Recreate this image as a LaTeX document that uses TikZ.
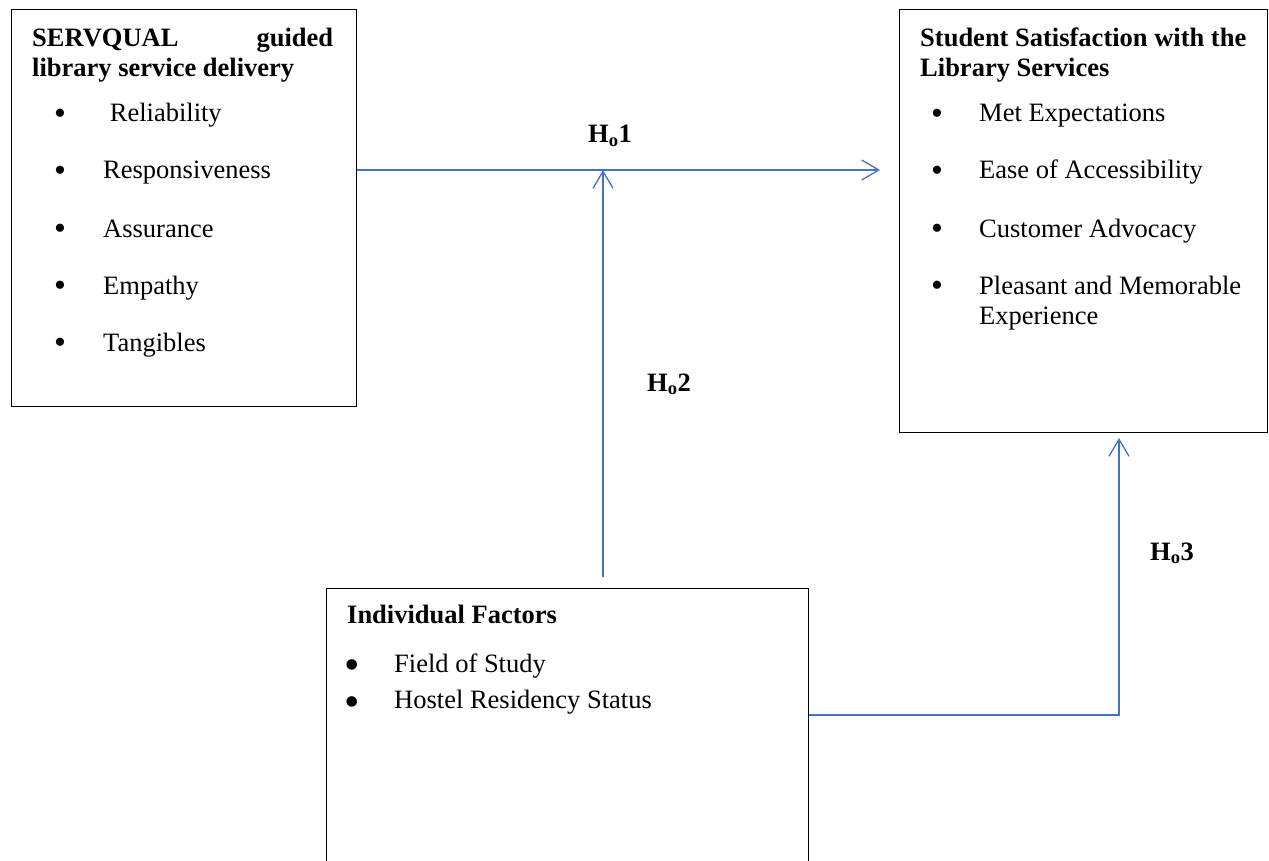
\documentclass[tikz,border=0pt]{standalone}
\usepackage{fontspec}
\setmainfont{Liberation Serif}
\usetikzlibrary{arrows.meta}
\definecolor{wordblue}{HTML}{4472C4}
\begin{document}
\begin{tikzpicture}[x=1pt,y=-1pt,
  box/.style={draw=black, line width=1.4pt, rectangle, anchor=north west, inner sep=0pt},
  conn/.style={draw=wordblue, line width=1.3pt},
  tip/.style={-{Straight Barb[length=17pt,width=20pt,line width=1.3pt]}},
  txt/.style={anchor=base west, inner sep=0pt, font=\fontsize{26.5}{30.5}\selectfont},
  ttl/.style={anchor=base west, inner sep=0pt, font=\fontsize{26.5}{30.5}\selectfont\bfseries},
  bul/.style={anchor=base, inner sep=0pt, font=\fontsize{34}{36}\selectfont},
  bigbul/.style={anchor=base, inner sep=0pt, font=\fontsize{44}{46}\selectfont},
  hyp/.style={anchor=base west, inner sep=0pt, font=\fontsize{26.5}{30.5}\selectfont\bfseries}
]
\useasboundingbox (0,0) rectangle (1269,861);
\clip (0,0) rectangle (1269,861);

% boxes
\node[box, minimum width=345pt, minimum height=397pt] (srv) at (11,9) {};
\node[box, minimum width=368pt, minimum height=423pt] (sat) at (899,9) {};
\node[box, minimum width=482pt, minimum height=320pt] (ind) at (326,588) {};

% SERVQUAL box
\node[ttl] (srvT1) at (32,46.5) {\hbox to 301pt{SERVQUAL\hfill guided}};
\node[ttl] (srvT2) at (32,77) {library service delivery};
\node[bul] (sb1) at (60,124.6) {•};
\node[txt] (st1) at (103,122) {\ Reliability};
\node[bul] (sb2) at (60,181.6) {•};
\node[txt] (st2) at (103,179) {Responsiveness};
\node[bul] (sb3) at (60,239.6) {•};
\node[txt] (st3) at (103,237) {Assurance};
\node[bul] (sb4) at (60,296.6) {•};
\node[txt] (st4) at (103,294) {Empathy};
\node[bul] (sb5) at (60,353.6) {•};
\node[txt] (st5) at (103,351) {Tangibles};

% Satisfaction box
\node[ttl] (satT1) at (920,46.5) {Student Satisfaction with the};
\node[ttl] (satT2) at (920,77) {Library Services};
\node[bul] (ab1) at (937,124.6) {•};
\node[txt] (at1) at (979,122) {Met Expectations};
\node[bul] (ab2) at (937,181.6) {•};
\node[txt] (at2) at (979,179) {Ease of Accessibility};
\node[bul] (ab3) at (937,239.6) {•};
\node[txt] (at3) at (979,237) {Customer Advocacy};
\node[bul] (ab4) at (937,296.6) {•};
\node[txt] (at4) at (979,294) {Pleasant and Memorable};
\node[txt] (at5) at (979,324.5) {Experience};

% Individual factors box
\node[ttl] (indT) at (347,623) {Individual Factors};
\node[bigbul] (ib1) at (352,679) {•};
\node[txt] (it1) at (394,672) {Field of Study};
\node[bigbul] (ib2) at (352,716) {•};
\node[txt] (it2) at (394,708) {Hostel Residency Status};

% connectors
\coordinate (h1end) at (880,170);
\coordinate (h2start) at (603,577);
\coordinate (h3turn) at (1119,715);
\coordinate (h3end) at (1119,438);
\draw[conn,tip] (srv.east |- h1end) -- (h1end);
\draw[conn,tip] (h2start) -- (h2start |- h1end);
\draw[conn,tip] (ind.east |- h3turn) -- (h3turn) -- (h3end);

% hypothesis labels
\node[hyp] (h1) at (588,143) {H\textsubscript{o}1};
\node[hyp] (h2) at (647,391) {H\textsubscript{o}2};
\node[hyp] (h3) at (1150,560) {H\textsubscript{o}3};
\end{tikzpicture}
\end{document}
